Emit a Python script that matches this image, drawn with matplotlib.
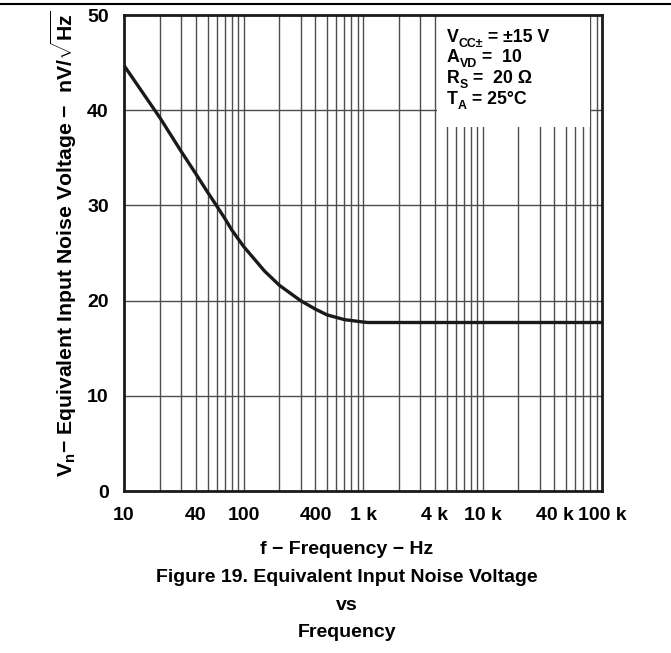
import matplotlib
matplotlib.use("Agg")
import matplotlib.pyplot as plt
from matplotlib.lines import Line2D
from matplotlib.patches import Rectangle

plt.rcParams['font.family'] = ['Liberation Sans', 'DejaVu Sans']
plt.rcParams['font.weight'] = 'bold'
plt.rcParams['mathtext.fontset'] = 'custom'
plt.rcParams['mathtext.rm'] = 'Liberation Sans:bold'
plt.rcParams['mathtext.bf'] = 'Liberation Sans:bold'
plt.rcParams['mathtext.it'] = 'Liberation Sans:bold'
plt.rcParams['mathtext.sf'] = 'Liberation Sans:bold'
plt.rcParams['mathtext.default'] = 'bf'

# Data
freq_hz = [10, 20, 30, 40, 50, 60, 70, 80, 100, 150, 200, 300, 400, 500, 700, 1000, 1100, 100000]
noise_nv = [44.7, 39.2, 35.7, 33.3, 31.4, 29.9, 28.6, 27.4, 25.7, 23.1, 21.6, 20.0, 19.1, 18.5, 18.0, 17.75, 17.7, 17.7]

xtick_vals = [10, 40, 100, 400, 1000, 4000, 10000, 40000, 100000]
xtick_labels = ['10', '40', '100', '400', '1 k', '4 k', '10 k', '40 k', '100 k']
ytick_vals = [0, 10, 20, 30, 40, 50]

FS = 14
W, H = 671, 653

fig = plt.figure(figsize=(W/100, H/100), dpi=100)
ax = fig.add_axes([124/W, 1-491/H, (602-124)/W, (491-15)/H])

ax.set_xscale('log')
ax.set_xlim(10, 100000)
ax.set_ylim(0, 50)

# grid lines
grid_c = '#4d4d4d'
for dec in [10, 100, 1000, 10000]:
    for m in range(1, 10):
        v = dec * m
        if 10 < v < 100000:
            ax.axvline(v, color=grid_c, lw=1.0, zorder=1)
for v in ytick_vals[1:-1]:
    ax.axhline(v, color=grid_c, lw=1.0, zorder=1)

# annotation box (white background hiding grid)
ax.add_patch(Rectangle((437/W, 1-127/H), (590-437)/W, (127-15)/H,
                       transform=fig.transFigure, facecolor='white', edgecolor='none', zorder=2))

ax.plot(freq_hz, noise_nv, color='#1a1a1a', lw=2.4, zorder=3, solid_capstyle='butt',
        solid_joinstyle='round')

ax.set_xticks(xtick_vals)
ax.set_xticklabels(xtick_labels)
ax.set_xticks([], minor=True)
ax.set_yticks(ytick_vals)
ax.tick_params(length=0, labelsize=FS)
ax.tick_params(axis='x', pad=11.5)
ax.tick_params(axis='y', pad=11)
for lab in ax.get_xticklabels() + ax.get_yticklabels():
    lab.set_fontweight('bold')

for s in ax.spines.values():
    s.set_linewidth(2.0)
    s.set_color('#1a1a1a')
    s.set_zorder(4)

ax.set_ylabel(r'V$_\mathbf{n}$− Equivalent Input Noise Voltage −  nV/$\sqrt{\mathbf{Hz}}$',
              fontsize=15.3, fontweight='bold')
ax.yaxis.set_label_coords((73-124)/478, (491-244)/476)
ax.yaxis.label.set_va('baseline')


def compose(x, y, parts, fs):
    prev = None
    prev_dy = 0.0
    for txt, sub in parts:
        size = fs * 0.7 if sub else fs
        dy = -3.0 if sub else 0.0
        if prev is None:
            prev = fig.text(x, y, txt, ha='left', va='baseline', fontsize=size, fontweight='bold')
        else:
            prev = ax.annotate(txt, xy=(1, 0), xycoords=prev,
                               xytext=(0, dy - prev_dy), textcoords='offset points',
                               ha='left', va='bottom', fontsize=size, fontweight='bold',
                               annotation_clip=False)
        prev_dy = dy


AFS = 12.8
base_x = 447/W
line_y = [1-42/H, 1-62/H, 1-83/H, 1-104/H]
compose(base_x, line_y[0], [('V', False), ('CC±', True), (' = ±15 V', False)], AFS)
compose(base_x, line_y[1], [('A', False), ('VD', True), (' =  10', False)], AFS)
compose(base_x, line_y[2], [('R', False), ('S', True), (' =  20 Ω', False)], AFS)
compose(base_x, line_y[3], [('T', False), ('A', True), (' = 25°C', False)], AFS)

cx = 347/W
fig.text(cx, 1-554/H, 'f − Frequency − Hz', ha='center', va='baseline', fontsize=FS, fontweight='bold')
fig.text(cx, 1-582/H, 'Figure 19. Equivalent Input Noise Voltage',
         ha='center', va='baseline', fontsize=FS, fontweight='bold')
fig.text(cx, 1-610/H, 'vs', ha='center', va='baseline', fontsize=FS, fontweight='bold')
fig.text(cx, 1-637/H, 'Frequency', ha='center', va='baseline', fontsize=FS, fontweight='bold')

fig.add_artist(Line2D([0, 1], [1-4/H, 1-4/H], transform=fig.transFigure,
                      color='black', lw=1.5))

fig.savefig('out.png', dpi=100)
